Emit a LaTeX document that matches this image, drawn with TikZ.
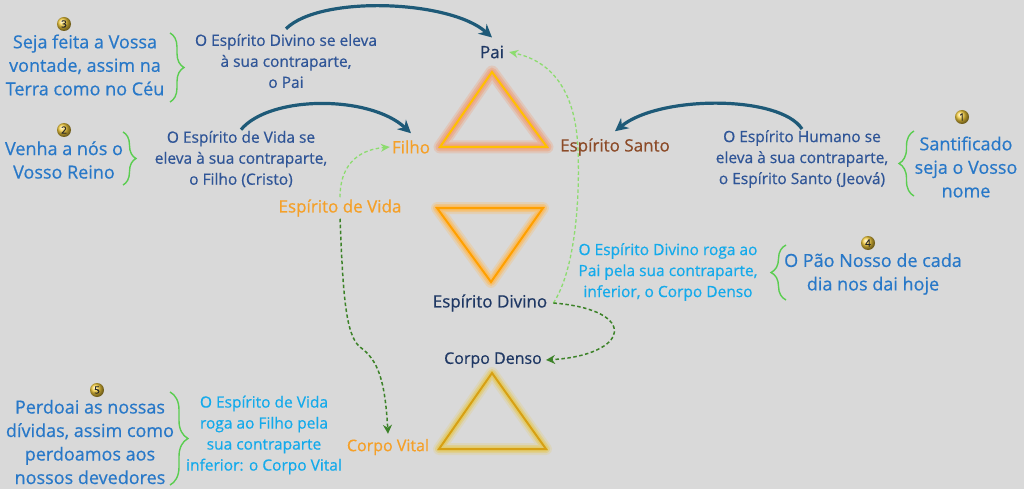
\documentclass[tikz,border=0pt]{standalone}
\usepackage{fontspec}
\setmainfont{Open Sans}[FakeBold=0.6]
\usetikzlibrary{arrows.meta,decorations.pathreplacing}
\definecolor{bgc}{RGB}{217,217,217}
\definecolor{headc}{RGB}{40,120,200}
\definecolor{descc}{RGB}{47,85,151}
\definecolor{cyanc}{RGB}{20,170,235}
\definecolor{navyc}{RGB}{31,56,100}
\definecolor{orngc}{RGB}{245,160,40}
\definecolor{brownc}{RGB}{140,75,40}
\definecolor{bracec}{RGB}{90,205,80}
\definecolor{arrowc}{RGB}{30,90,120}
\definecolor{lgreen}{RGB}{140,220,110}
\definecolor{dgreen}{RGB}{60,130,40}
\definecolor{goldc}{RGB}{245,205,60}
\begin{document}
\begin{tikzpicture}[x=1pt, y=-1pt,
    head/.style={text=headc, align=center, inner sep=1pt, font=\fontsize{18}{23.5}\selectfont},
    desc/.style={text=descc, align=center, inner sep=1pt, font=\fontsize{15.5}{21}\selectfont},
    roga/.style={desc, text=cyanc},
    lbl/.style={inner sep=2pt, font=\fontsize{17}{20}\selectfont},
    coin/.style={circle, ball color=goldc, inner sep=0pt, minimum size=14pt, text=black!85, font=\fontsize{10}{10}\selectfont},
    curly/.style={bracec, line width=1.4pt, decorate},
    lift/.style={arrowc, line width=3.2pt, -{Stealth[length=13pt, width=13pt]}},
    up/.style={lgreen, line width=1.3pt, dash pattern=on 3.5pt off 2.5pt, -{Stealth[length=9pt, width=8pt]}},
    down/.style={dgreen, line width=1.5pt, dash pattern=on 3.5pt off 2.5pt, -{Stealth[length=9pt, width=9pt]}}]
  \fill[bgc] (0,0) rectangle (1024,489);
  \useasboundingbox (0,0) rectangle (1024,489);
  % triangulos
  \foreach \w/\o in {13/0.3, 9/0.5, 5/0.7}
    \draw[line width=\w pt, line join=round, draw={rgb,255:red,240;green,160;blue,120}, opacity=\o] (492,72)--(440,147)--(547,147)--cycle;
  \draw[line width=2pt, draw={rgb,255:red,255;green,192;blue,0}] (492,72)--(440,147)--(547,147)--cycle;
  \foreach \w/\o in {12/0.25, 8/0.45, 5/0.6}
    \draw[line width=\w pt, line join=round, draw={rgb,255:red,255;green,185;blue,80}, opacity=\o] (437,208)--(543,208)--(491,282)--cycle;
  \draw[line width=2pt, draw={rgb,255:red,255;green,160;blue,0}] (437,208)--(543,208)--(491,282)--cycle;
  \foreach \w/\o in {12/0.2, 8/0.4, 5/0.55}
    \draw[line width=\w pt, line join=round, draw={rgb,255:red,230;green,200;blue,80}, opacity=\o] (492,373)--(439,449)--(546,449)--cycle;
  \draw[line width=2pt, draw={rgb,255:red,215;green,160;blue,20}] (492,373)--(439,449)--(546,449)--cycle;
  % nomes
  \node[lbl, text=navyc] (pai) at (492,52) {Pai};
  \node[lbl, text=orngc] (filho) at (411,147) {Filho};
  \node[lbl, text=brownc] (santo) at (615,147) {Espírito Santo};
  \node[lbl, text=orngc] (vida) at (340,208) {Espírito de Vida};
  \node[lbl, text=navyc] (divino) at (490,303) {Espírito Divino};
  \node[lbl, text=navyc, font=\fontsize{16}{20}\selectfont] (denso) at (493,360) {Corpo Denso};
  \node[lbl, text=orngc, font=\fontsize{16}{20}\selectfont] (vital) at (388,447) {Corpo Vital};
  % oracao
  \node[head] (s3) at (85,65) {Seja feita a Vossa\\vontade, assim na\\Terra como no Céu};
  \node[head] (s2) at (64,160) {Venha a nós o\\Vosso Reino};
  \node[head] (s1) at (966,167) {Santificado\\seja o Vosso\\nome};
  \node[head] (s4) at (873,274) {O Pão Nosso de cada\\dia nos dai hoje};
  \node[head] (s5) at (90,442) {Perdoai as nossas\\dívidas, assim como\\perdoamos aos\\nossos devedores};
  \node[desc] (d3) at (286,61) {O Espírito Divino se eleva\\à sua contraparte,\\o Pai};
  \node[desc] (d2) at (241,159) {O Espírito de Vida se\\eleva à sua contraparte,\\o Filho (Cristo)};
  \node[desc] (d1) at (802,159) {O Espírito Humano se\\eleva à sua contraparte,\\o Espírito Santo (Jeová)};
  \node[roga] (d4) at (668,272) {O Espírito Divino roga ao\\Pai pela sua contraparte,\\inferior, o Corpo Denso};
  \node[roga] (d5) at (264,435) {O Espírito de Vida\\roga ao Filho pela\\sua contraparte\\inferior: o Corpo Vital};
  \node[coin] (n1) at (962,117) {1};
  \node[coin] (n2) at (64,130) {2};
  \node[coin] (n3) at (64,24) {3};
  \node[coin] (n4) at (868,243) {4};
  \node[coin] (n5) at (97,390) {5};
  % chaves
  \draw[curly, decoration={brace, amplitude=14pt}] (170,33) -- (170,102);
  \draw[curly, decoration={brace, amplitude=13pt}] (123,132) -- (123,185);
  \draw[curly, decoration={brace, amplitude=15pt}] (914,196) -- (914,131);
  \draw[curly, decoration={brace, amplitude=15pt}] (786,300) -- (786,245);
  \draw[curly, decoration={brace, amplitude=18pt}] (170,392) -- (170,485);
  % setas
  \draw[lift] ([yshift=4pt]d3.north) .. controls (320,-5) and (450,0) .. ([yshift=6pt]pai.north);
  \draw[lift] (d2.north) .. controls (270,95) and (370,95) .. ([yshift=5pt]filho.north);
  \draw[lift] (d1.north) .. controls (780,95) and (660,95) .. ([yshift=5pt]santo.north);
  \draw[up] ([xshift=4pt]divino.east) .. controls (575,270) and (580,200) .. (578,150) .. controls (576,95) and (555,62) .. ([xshift=3pt]pai.east);
  \draw[up] (vida.north) .. controls (340,168) and (355,150) .. (filho.west);
  \draw[down] ([xshift=4pt]divino.east) .. controls (640,310) and (630,355) .. ([xshift=2pt]denso.east);
  \draw[down] (vida.south) .. controls (343,290) and (345,335) .. (360,347) .. controls (378,360) and (385,380) .. ([yshift=3pt]vital.north);
\end{tikzpicture}
\end{document}
